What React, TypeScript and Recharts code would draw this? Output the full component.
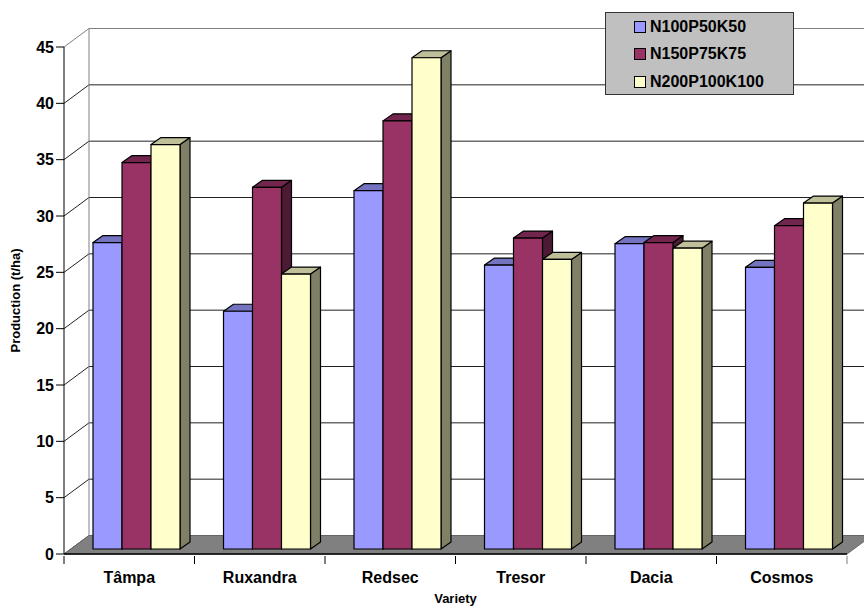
import { Bar, BarChart, CartesianGrid, Legend, XAxis, YAxis } from "recharts";

const varieties = ["Tâmpa", "Ruxandra", "Redsec", "Tresor", "Dacia", "Cosmos"];
const n100 = [27.2, 21.1, 31.8, 25.2, 27.1, 25.0];
const n150 = [34.3, 32.1, 38.0, 27.6, 27.2, 28.7];
const n200 = [35.9, 24.4, 43.6, 25.7, 26.7, 30.7];
const yTicks = [0, 5, 10, 15, 20, 25, 30, 35, 40, 45];

const data = varieties.map((name, i) => ({
  name,
  N100P50K50: n100[i],
  N150P75K75: n150[i],
  N200P100K100: n200[i],
}));

const FONT = "'Liberation Sans', Arial, sans-serif";
const WALL_DX = 25;
const WALL_DY = -18.5;
const BAR_DX = 7.25;
const BAR_DY = -5;
const DEPTH_X = 10;
const DEPTH_Y = -7;

type BarShapeProps = { x: number; y: number; width: number; height: number };

function bar3d(front: string, top: string, side: string) {
  return ({ x, y, width, height }: BarShapeProps) => {
    const l = x + BAR_DX;
    const r = l + width;
    const t = y + BAR_DY;
    const b = t + height;
    return (
      <g stroke="#000" strokeWidth={1.2} strokeLinejoin="round">
        <polygon
          points={`${r},${t} ${r + DEPTH_X},${t + DEPTH_Y} ${r + DEPTH_X},${b + DEPTH_Y} ${r},${b}`}
          fill={side}
        />
        <polygon
          points={`${l},${t} ${l + DEPTH_X},${t + DEPTH_Y} ${r + DEPTH_X},${t + DEPTH_Y} ${r},${t}`}
          fill={top}
        />
        <rect x={l} y={t} width={width} height={height} fill={front} />
      </g>
    );
  };
}

// gridlines run up the side wall and then along the back wall
function wallLine({ x1, x2, y1, index }: any) {
  const backY = y1 + WALL_DY;
  const floor = index === 0;
  const roof = index === yTicks.length - 1;
  return (
    <g key={`wall-${index}`}>
      {floor && (
        <polygon
          points={`${x1},${y1} ${x1 + WALL_DX},${backY} ${x2 + WALL_DX},${backY} ${x2},${y1}`}
          fill="#808080"
          stroke="#666"
        />
      )}
      {roof && (
        <line x1={x1 + WALL_DX} x2={x1 + WALL_DX} y1={backY} y2={backY + 507} stroke="#808080" />
      )}
      <polyline
        points={`${x1},${y1} ${x1 + WALL_DX},${backY} ${x2 + WALL_DX},${backY}`}
        fill="none"
        stroke={roof ? "#808080" : floor ? "#666" : "#222"}
        strokeWidth={1}
      />
    </g>
  );
}

function CategoryTick({ x, y, payload, index }: any) {
  const half = 65.25;
  return (
    <g>
      <line x1={x - half} x2={x - half} y1={y - 8} y2={y} stroke="#000" />
      {index === varieties.length - 1 && (
        <line x1={x + half} x2={x + half} y1={y - 8} y2={y} stroke="#808080" />
      )}
      <text x={x} y={y + 19} textAnchor="middle" fontFamily={FONT} fontWeight="bold" fontSize={16} fill="#000">
        {payload.value}
      </text>
    </g>
  );
}

function LegendBox({ payload }: any) {
  return (
    <div
      style={{
        width: 189,
        height: 83,
        boxSizing: "border-box",
        background: "#C0C0C0",
        border: "1px solid #333",
        fontFamily: FONT,
        fontWeight: "bold",
        fontSize: 16,
      }}
    >
      {payload.map((entry: any) => (
        <div key={entry.value} style={{ display: "flex", alignItems: "center", height: 27.5, paddingLeft: 28 }}>
          <span
            style={{
              width: 10,
              height: 10,
              background: entry.color,
              border: "1px solid #000",
              marginRight: 4,
            }}
          />
          {entry.value}
        </div>
      ))}
    </div>
  );
}

export default function App() {
  return (
    <div style={{ width: 864, height: 606, background: "#fff" }}>
      <style>{`body{margin:0}`}</style>
      <BarChart
        width={864}
        height={606}
        data={data}
        margin={{ top: 47, right: 17, bottom: 0, left: 0 }}
        barCategoryGap="16.67%"
        barGap={0}
      >
        <CartesianGrid horizontal={wallLine} vertical={false} />
        <XAxis
          dataKey="name"
          height={52}
          interval={0}
          axisLine={{ stroke: "#000", strokeWidth: 1.5 }}
          tickLine={false}
          tick={CategoryTick}
          tickSize={8}
          label={{
            value: "Variety",
            position: "insideBottom",
            offset: 3,
            style: { fontFamily: FONT, fontWeight: "bold", fontSize: 13, fill: "#000" },
          }}
        />
        <YAxis
          width={64}
          domain={[0, 45]}
          ticks={yTicks}
          interval={0}
          axisLine={{ stroke: "#000" }}
          tickLine={{ stroke: "#000" }}
          tickSize={8}
          tick={{ fontFamily: FONT, fontWeight: "bold", fontSize: 16, fill: "#000" }}
          label={{
            value: "Production (t/ha)",
            angle: -90,
            position: "insideLeft",
            offset: 15,
            style: { textAnchor: "middle", fontFamily: FONT, fontWeight: "bold", fontSize: 13, fill: "#000" },
          }}
        />
        <Legend
          layout="horizontal"
          align="center"
          verticalAlign="middle"
          wrapperStyle={{ left: 605, top: 12, width: 189, height: 83 }}
          content={LegendBox}
        />
        <Bar dataKey="N100P50K50" fill="#9999FF" isAnimationActive={false} shape={bar3d("#9999FF", "#7373BF", "#4C4C80")} />
        <Bar dataKey="N150P75K75" fill="#993366" isAnimationActive={false} shape={bar3d("#993366", "#73264D", "#4C1A33")} />
        <Bar dataKey="N200P100K100" fill="#FFFFCC" isAnimationActive={false} shape={bar3d("#FFFFCC", "#BFBF99", "#808066")} />
      </BarChart>
    </div>
  );
}
